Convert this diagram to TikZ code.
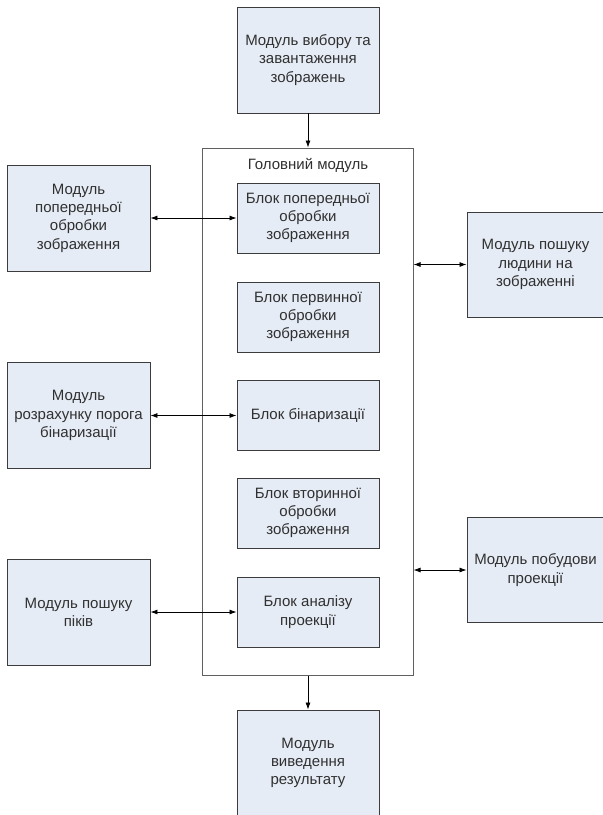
\documentclass[tikz,border=0pt]{standalone}
\usepackage{fontspec}
\setmainfont{Liberation Sans}
\usetikzlibrary{arrows.meta,calc}
\definecolor{boxfill}{HTML}{E6ECF6}
\definecolor{boxline}{HTML}{3C3C3C}
\definecolor{mainline}{HTML}{606060}
\definecolor{txt}{HTML}{303030}
\begin{document}
\begin{tikzpicture}[x=1pt,y=1pt,
  blk/.style={draw=boxline,line width=0.9pt,fill=boxfill,inner sep=2pt,
    minimum width=142pt,minimum height=70pt,align=center,text=txt,
    font=\fontsize{15}{18.3}\selectfont,anchor=center},
  bigblk/.style={blk,minimum height=106pt},
  rblk/.style={blk,minimum width=137pt,minimum height=105pt},
  arr/.style={-{Latex[length=7pt,width=5pt]},line width=0.8pt,black},
  darr/.style={{Latex[length=7pt,width=5pt]}-{Latex[length=7pt,width=5pt]},line width=0.8pt,black}]
\useasboundingbox (0,0) rectangle (603,-815);
% main module frame
\node[draw=mainline,line width=1pt,minimum width=211pt,minimum height=527pt,inner sep=0pt] (main) at (307.5,-411.5) {};
\node[text=txt,font=\fontsize{15}{18.3}\selectfont] (title) at (308,-165) {Головний модуль};
% top and bottom modules
\node[bigblk] (top) at (308,-60) {Модуль вибору та\\завантаження\\зображень};
\node[bigblk] (bot) at (308,-763) {Модуль\\виведення\\результату};
% inner blocks
\node[blk] (b1) at (308,-218) {Блок попередньої\\обробки\\зображення};
\node[blk] (b2) at (308,-317) {Блок первинної\\обробки\\зображення};
\node[blk] (b3) at (308,-415.5) {Блок бінаризації};
\node[blk] (b4) at (308,-513) {Блок вторинної\\обробки\\зображення};
\node[blk] (b5) at (308,-612) {Блок аналізу\\проекції};
% left modules
\node[bigblk,minimum width=143pt] (l1) at (78.5,-218) {Модуль\\попередньої\\обробки\\зображення};
\node[bigblk,minimum width=143pt] (l2) at (78.5,-415.5) {Модуль\\розрахунку порога\\бінаризації};
\node[bigblk,minimum width=143pt] (l3) at (78.5,-612) {Модуль пошуку\\піків};
% right modules
\node[rblk] (r1) at (535.5,-264.5) {Модуль пошуку\\людини на\\зображенні};
\node[rblk] (r2) at (535.5,-570) {Модуль побудови\\проекції};
% connectors
\draw[arr] (top.south) -- (main.north -| top.south);
\draw[arr] (main.south -| bot.north) -- (bot.north);
\draw[darr] (l1.east) -- (b1.west);
\draw[darr] (l2.east) -- (b3.west);
\draw[darr] (l3.east) -- (b5.west);
\draw[darr] (r1.west -| main.east) -- (r1.west);
\draw[darr] (r2.west -| main.east) -- (r2.west);
\end{tikzpicture}
\end{document}
